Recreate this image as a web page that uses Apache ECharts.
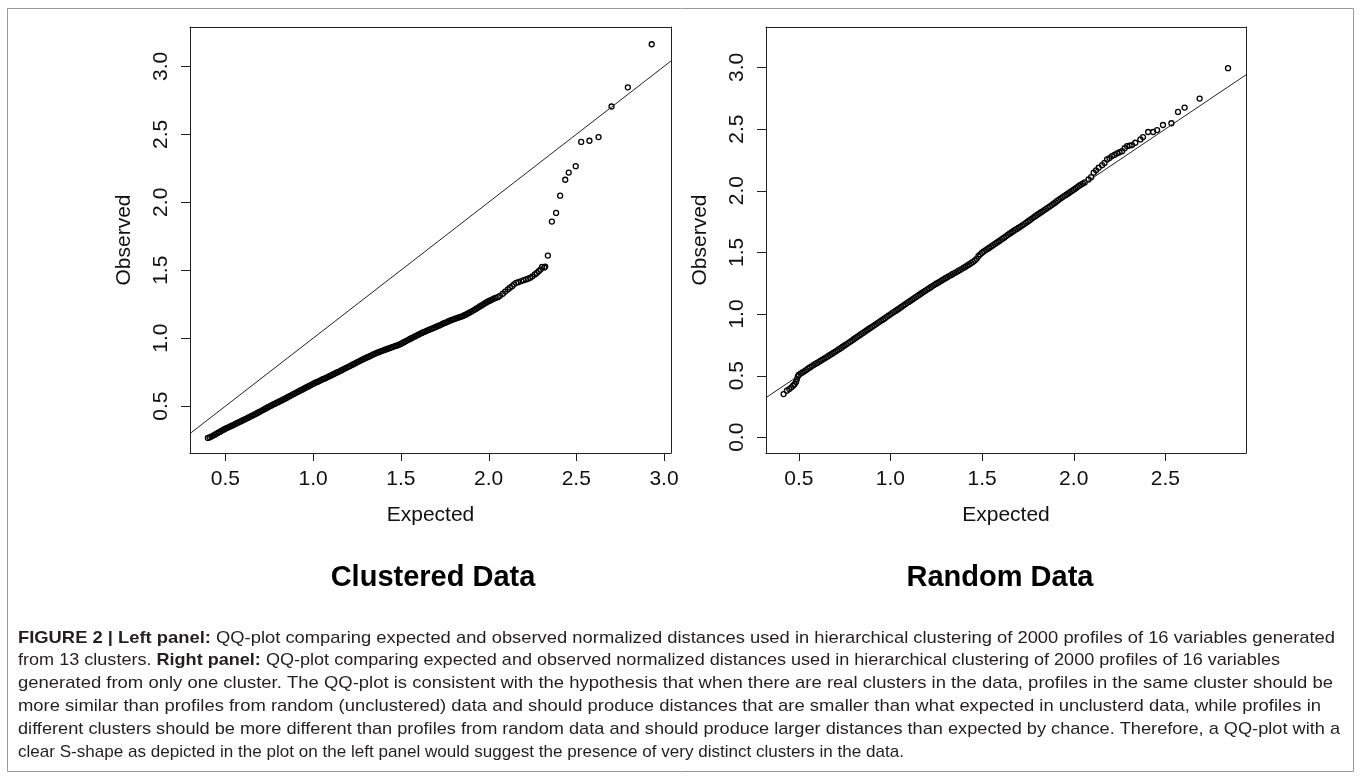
<!DOCTYPE html>
<html>
<head>
<meta charset="utf-8">
<title>QQ-plots: clustered vs random data</title>
<script src="https://cdn.jsdelivr.net/npm/echarts@6.0.0/dist/echarts.min.js"></script>
<style>
  html, body { margin: 0; padding: 0; background: #fff; }
  #main { width: 1363px; height: 779px; }
</style>
</head>
<body>
<div id="main"></div>
<script>
// tick labels
var clusteredXTicks = [0.5, 1.0, 1.5, 2.0, 2.5, 3.0];
var clusteredYTicks = [0.5, 1.0, 1.5, 2.0, 2.5, 3.0];
var randomXTicks = [0.5, 1.0, 1.5, 2.0, 2.5];
var randomYTicks = [0.0, 0.5, 1.0, 1.5, 2.0, 2.5, 3.0];

// axis limits (R style, 4% padding)
var clusteredXRange = [0.298, 3.04];
var clusteredYRange = [0.155, 3.29];
var randomXRange = [0.321, 2.94];
var randomYRange = [-0.128, 3.328];

// [expected, observed] - left panel
var clusteredPoints = [
  [0.40,0.266],[0.41,0.270],[0.42,0.276],[0.43,0.283],[0.44,0.290],[0.45,0.298],[0.46,0.305],[0.47,0.312],[0.48,0.320],[0.49,0.327],
  [0.50,0.334],[0.51,0.340],[0.52,0.346],[0.53,0.352],[0.54,0.358],[0.55,0.364],[0.56,0.371],[0.57,0.377],[0.58,0.383],[0.59,0.389],
  [0.60,0.396],[0.61,0.402],[0.62,0.408],[0.63,0.415],[0.64,0.421],[0.65,0.428],[0.66,0.434],[0.67,0.441],[0.68,0.448],[0.69,0.455],
  [0.70,0.462],[0.71,0.469],[0.72,0.476],[0.73,0.483],[0.74,0.490],[0.75,0.497],[0.76,0.503],[0.77,0.510],[0.78,0.516],[0.79,0.523],
  [0.80,0.529],[0.81,0.536],[0.82,0.542],[0.83,0.549],[0.84,0.555],[0.85,0.562],[0.86,0.569],[0.87,0.576],[0.88,0.583],[0.89,0.590],
  [0.90,0.596],[0.91,0.603],[0.92,0.610],[0.93,0.617],[0.94,0.623],[0.95,0.630],[0.96,0.637],[0.97,0.643],[0.98,0.650],[0.99,0.657],
  [1.00,0.664],[1.01,0.670],[1.02,0.676],[1.03,0.682],[1.04,0.688],[1.05,0.694],[1.06,0.700],[1.07,0.706],[1.08,0.712],[1.09,0.718],
  [1.10,0.724],[1.11,0.731],[1.12,0.737],[1.13,0.744],[1.14,0.750],[1.15,0.756],[1.16,0.763],[1.17,0.769],[1.18,0.776],[1.19,0.782],
  [1.20,0.789],[1.21,0.795],[1.22,0.802],[1.23,0.808],[1.24,0.815],[1.25,0.822],[1.26,0.828],[1.27,0.835],[1.28,0.842],[1.29,0.848],
  [1.30,0.854],[1.31,0.860],[1.32,0.866],[1.33,0.872],[1.34,0.878],[1.35,0.884],[1.36,0.890],[1.37,0.895],[1.38,0.900],[1.39,0.905],
  [1.40,0.910],[1.41,0.915],[1.42,0.919],[1.43,0.924],[1.44,0.929],[1.45,0.934],[1.46,0.938],[1.47,0.943],[1.48,0.947],[1.49,0.952],
  [1.50,0.958],[1.51,0.965],[1.52,0.972],[1.53,0.979],[1.54,0.986],[1.55,0.993],[1.56,1.000],[1.57,1.006],[1.58,1.013],[1.59,1.019],
  [1.60,1.026],[1.61,1.032],[1.62,1.039],[1.63,1.045],[1.64,1.050],[1.65,1.056],[1.66,1.061],[1.67,1.067],[1.68,1.072],[1.69,1.077],
  [1.70,1.083],[1.71,1.089],[1.72,1.094],[1.73,1.100],[1.74,1.106],[1.75,1.112],[1.76,1.117],[1.77,1.123],[1.78,1.129],[1.79,1.134],
  [1.80,1.139],[1.81,1.143],[1.82,1.148],[1.83,1.152],[1.84,1.157],[1.85,1.161],[1.86,1.167],[1.87,1.173],[1.88,1.180],[1.89,1.187],
  [1.90,1.194],[1.91,1.201],[1.92,1.209],[1.93,1.217],[1.94,1.225],[1.95,1.233],[1.96,1.241],[1.97,1.249],[1.98,1.257],[1.99,1.265],
  [2.00,1.272],[2.01,1.278],[2.02,1.284],[2.03,1.290],[2.04,1.296],
  [2.053,1.302],[2.065,1.312],[2.081,1.327],[2.095,1.343],[2.110,1.359],[2.122,1.372],[2.135,1.383],[2.145,1.396],[2.157,1.407],
  [2.170,1.412],[2.186,1.420],[2.200,1.427],[2.214,1.432],[2.225,1.438],[2.237,1.444],[2.250,1.455],[2.264,1.469],[2.275,1.480],
  [2.286,1.493],[2.296,1.505],[2.305,1.524],[2.318,1.520],[2.323,1.527],[2.338,1.608],[2.361,1.858],[2.385,1.922],[2.408,2.049],
  [2.437,2.166],[2.457,2.219],[2.497,2.266],[2.528,2.444],[2.575,2.453],[2.627,2.480],[2.701,2.705],[2.794,2.846],[2.930,3.163]
];

// [expected, observed] - right panel
var randomPoints = [
  [0.417,0.350],[0.435,0.378],[0.448,0.391],[0.460,0.405],[0.470,0.420],[0.477,0.430],[0.485,0.448],[0.490,0.472],[0.495,0.494],
  [0.50,0.505],[0.51,0.516],[0.52,0.526],[0.53,0.535],[0.54,0.545],[0.55,0.556],[0.56,0.566],[0.57,0.575],[0.58,0.585],[0.59,0.594],
  [0.60,0.603],[0.61,0.612],[0.62,0.621],[0.63,0.630],[0.64,0.639],[0.65,0.648],[0.66,0.657],[0.67,0.667],[0.68,0.676],[0.69,0.686],
  [0.70,0.695],[0.71,0.705],[0.72,0.714],[0.73,0.724],[0.74,0.734],[0.75,0.744],[0.76,0.754],[0.77,0.764],[0.78,0.774],[0.79,0.784],
  [0.80,0.795],[0.81,0.805],[0.82,0.815],[0.83,0.826],[0.84,0.836],[0.85,0.846],[0.86,0.856],[0.87,0.866],[0.88,0.876],[0.89,0.886],
  [0.90,0.896],[0.91,0.906],[0.92,0.916],[0.93,0.926],[0.94,0.936],[0.95,0.946],[0.96,0.956],[0.97,0.966],[0.98,0.977],[0.99,0.987],
  [1.00,0.997],[1.01,1.007],[1.02,1.017],[1.03,1.027],[1.04,1.037],[1.05,1.047],[1.06,1.057],[1.07,1.068],[1.08,1.078],[1.09,1.088],
  [1.10,1.098],[1.11,1.108],[1.12,1.118],[1.13,1.128],[1.14,1.138],[1.15,1.148],[1.16,1.158],[1.17,1.168],[1.18,1.178],[1.19,1.188],
  [1.20,1.198],[1.21,1.207],[1.22,1.217],[1.23,1.226],[1.24,1.236],[1.25,1.245],[1.26,1.254],[1.27,1.263],[1.28,1.272],[1.29,1.281],
  [1.30,1.290],[1.31,1.298],[1.32,1.307],[1.33,1.315],[1.34,1.324],[1.35,1.332],[1.36,1.340],[1.37,1.349],[1.38,1.357],[1.39,1.366],
  [1.40,1.375],[1.41,1.384],[1.42,1.393],[1.43,1.402],[1.44,1.412],[1.45,1.422],[1.46,1.433],[1.47,1.447],[1.48,1.468],[1.49,1.484],
  [1.50,1.497],[1.51,1.508],[1.52,1.518],[1.53,1.528],[1.54,1.538],[1.55,1.548],[1.56,1.558],[1.57,1.568],[1.58,1.578],[1.59,1.588],
  [1.60,1.598],[1.61,1.609],[1.62,1.619],[1.63,1.630],[1.64,1.641],[1.65,1.651],[1.66,1.661],[1.67,1.671],[1.68,1.681],[1.69,1.690],
  [1.70,1.700],[1.71,1.709],[1.72,1.719],[1.73,1.729],[1.74,1.739],[1.75,1.750],[1.76,1.761],[1.77,1.772],[1.78,1.782],[1.79,1.793],
  [1.80,1.803],[1.81,1.813],[1.82,1.823],[1.83,1.833],[1.84,1.843],[1.85,1.853],[1.86,1.863],[1.87,1.873],[1.88,1.883],[1.89,1.894],
  [1.90,1.905],[1.91,1.917],[1.92,1.928],[1.93,1.938],[1.94,1.948],[1.95,1.958],[1.96,1.968],[1.97,1.978],[1.98,1.988],[1.99,1.998],
  [2.00,2.008],[2.01,2.018],[2.02,2.029],[2.03,2.040],[2.04,2.050],[2.05,2.058],[2.06,2.067],
  [2.081,2.091],[2.095,2.110],[2.109,2.146],[2.122,2.165],[2.136,2.186],[2.155,2.207],[2.168,2.225],[2.182,2.254],[2.195,2.265],
  [2.209,2.281],[2.222,2.290],[2.236,2.302],[2.250,2.312],[2.264,2.321],[2.278,2.345],[2.291,2.362],[2.305,2.366],[2.318,2.370],
  [2.336,2.389],[2.364,2.416],[2.378,2.435],[2.406,2.476],[2.433,2.476],[2.455,2.492],[2.487,2.533],[2.533,2.547],[2.569,2.639],
  [2.605,2.674],[2.687,2.747],[2.842,2.994]
];

var panelTitles = ['Clustered Data', 'Random Data'];

var captionLines = [
  '{b|FIGURE 2 | Left panel:} QQ-plot comparing expected and observed normalized distances used in hierarchical clustering of 2000 profiles of 16 variables generated',
  'from 13 clusters. {b|Right panel:} QQ-plot comparing expected and observed normalized distances used in hierarchical clustering of 2000 profiles of 16 variables',
  'generated from only one cluster. The QQ-plot is consistent with the hypothesis that when there are real clusters in the data, profiles in the same cluster should be',
  'more similar than profiles from random (unclustered) data and should produce distances that are smaller than what expected in unclusterd data, while profiles in',
  'different clusters should be more different than profiles from random data and should produce larger distances than expected by chance. Therefore, a QQ-plot with a',
  'clear S-shape as depicted in the plot on the left panel would suggest the presence of very distinct clusters in the data.'
];
// right end (px) of each caption line in the figure
var captionLineEnds = [1335, 1280, 1333, 1321, 1340, 904];

var FONT = '"Liberation Sans", Arial, sans-serif';
var fmt = function (v) { return Number(v).toFixed(1); };

// y = x reference line over the visible x range
function identity(range) {
  return [[range[0], range[0]], [range[1], range[1]]];
}

var frameLine = { show: true, onZero: false, lineStyle: { color: '#222', width: 1 } };

function xAxisFor(idx, range, ticks) {
  return {
    type: 'value', gridIndex: idx, min: range[0], max: range[1], position: 'bottom',
    name: 'Expected', nameLocation: 'middle', nameGap: 52,
    nameTextStyle: { fontSize: 21, fontFamily: FONT, color: '#111' },
    axisLine: frameLine,
    axisTick: { show: false },
    axisLabel: { customValues: ticks, formatter: fmt, margin: 16, fontSize: 21, fontFamily: FONT, color: '#111' },
    splitLine: { show: false }
  };
}

function yAxisFor(idx, range, ticks) {
  return {
    type: 'value', gridIndex: idx, min: range[0], max: range[1], position: 'left',
    name: 'Observed', nameLocation: 'middle', nameGap: 55,
    nameTextStyle: { fontSize: 21, fontFamily: FONT, color: '#111' },
    axisLine: frameLine,
    axisTick: { show: false },
    axisLabel: { customValues: ticks, formatter: fmt, rotate: 90, margin: 18, fontSize: 21, fontFamily: FONT, color: '#111' },
    splitLine: { show: false }
  };
}

// top / right edges of the box()
function frameAxis(idx, range, pos) {
  return {
    type: 'value', gridIndex: idx, min: range[0], max: range[1], position: pos,
    axisLine: frameLine, axisTick: { show: false }, axisLabel: { show: false }, splitLine: { show: false }
  };
}

function pointsSeries(idx, data) {
  return {
    type: 'scatter', xAxisIndex: idx, yAxisIndex: idx, data: data,
    symbol: 'circle', symbolSize: 5, silent: true,
    itemStyle: { color: 'rgba(0,0,0,0)', borderColor: '#000', borderWidth: 1.3, opacity: 1 }
  };
}

function refLineSeries(idx, range) {
  return {
    type: 'line', xAxisIndex: idx, yAxisIndex: idx, data: identity(range),
    symbol: 'none', silent: true, clip: true,
    lineStyle: { color: '#222', width: 1 }
  };
}

// caption is set in a condensed face: squeeze Liberation Sans to each line's width
var CAP_SIZE = 17;
var CAP_X = 18;
var ctx = document.createElement('canvas').getContext('2d');
function lineWidth(line) {
  var w = 0;
  line.split(/(\{b\|[^}]*\})/).forEach(function (part) {
    if (!part) return;
    var m = part.match(/^\{b\|([^}]*)\}$/);
    ctx.font = (m ? 'bold ' : '') + CAP_SIZE + 'px "Liberation Sans"';
    w += ctx.measureText(m ? m[1] : part).width;
  });
  return w;
}

var graphics = [
  { type: 'rect', shape: { x: 7.5, y: 8.5, width: 1346, height: 763 }, silent: true,
    style: { fill: null, stroke: '#9a9a9a', lineWidth: 1 } },
  { type: 'text', x: 433, y: 578, silent: true,
    style: { text: panelTitles[0], fontSize: 29, fontWeight: 'bold', fontFamily: FONT, fill: '#000', align: 'center', verticalAlign: 'middle' } },
  { type: 'text', x: 1000, y: 578, silent: true,
    style: { text: panelTitles[1], fontSize: 29, fontWeight: 'bold', fontFamily: FONT, fill: '#000', align: 'center', verticalAlign: 'middle' } }
];
captionLines.forEach(function (line, i) {
  graphics.push({
    type: 'text', x: CAP_X, y: 638 + i * 22.8, silent: true,
    scaleX: (captionLineEnds[i] - CAP_X) / lineWidth(line),
    style: {
      text: line, fontSize: CAP_SIZE, fontFamily: '"Liberation Sans"', fill: '#231f20',
      align: 'left', verticalAlign: 'middle',
      rich: { b: { fontSize: CAP_SIZE, fontFamily: '"Liberation Sans"', fontWeight: 'bold', fill: '#231f20' } }
    }
  });
});

var chart = echarts.init(document.getElementById('main'), null, { renderer: 'canvas' });
chart.setOption({
  animation: false,
  backgroundColor: '#fff',
  grid: [
    { left: 190, top: 27, width: 481, height: 426, show: false },
    { left: 766, top: 27, width: 480, height: 426, show: false }
  ],
  xAxis: [
    xAxisFor(0, clusteredXRange, clusteredXTicks),
    xAxisFor(1, randomXRange, randomXTicks),
    frameAxis(0, clusteredXRange, 'top'),
    frameAxis(1, randomXRange, 'top')
  ],
  yAxis: [
    yAxisFor(0, clusteredYRange, clusteredYTicks),
    yAxisFor(1, randomYRange, randomYTicks),
    frameAxis(0, clusteredYRange, 'right'),
    frameAxis(1, randomYRange, 'right')
  ],
  series: [
    refLineSeries(0, clusteredXRange),
    pointsSeries(0, clusteredPoints),
    refLineSeries(1, randomXRange),
    pointsSeries(1, randomPoints)
  ]
});

// outward tick marks, placed through the axes' own scales
var TICK_COLOR = '#222';
function tickMarks(idx, xRange, yRange, xTicks, yTicks) {
  var marks = [];
  var bottom = chart.convertToPixel({ yAxisIndex: idx }, yRange[0]);
  var left = chart.convertToPixel({ xAxisIndex: idx }, xRange[0]);
  var line = { stroke: TICK_COLOR, lineWidth: 1 };
  xTicks.forEach(function (v) {
    var px = Math.round(chart.convertToPixel({ xAxisIndex: idx }, v)) + 0.5;
    marks.push({ type: 'line', silent: true, shape: { x1: px, y1: bottom, x2: px, y2: bottom + 8 }, style: line });
  });
  yTicks.forEach(function (v) {
    var py = Math.round(chart.convertToPixel({ yAxisIndex: idx }, v)) + 0.5;
    marks.push({ type: 'line', silent: true, shape: { x1: left - 9, y1: py, x2: left, y2: py }, style: line });
  });
  return marks;
}

chart.setOption({
  graphic: graphics
    .concat(tickMarks(0, clusteredXRange, clusteredYRange, clusteredXTicks, clusteredYTicks))
    .concat(tickMarks(1, randomXRange, randomYRange, randomXTicks, randomYTicks))
});
</script>
</body>
</html>
